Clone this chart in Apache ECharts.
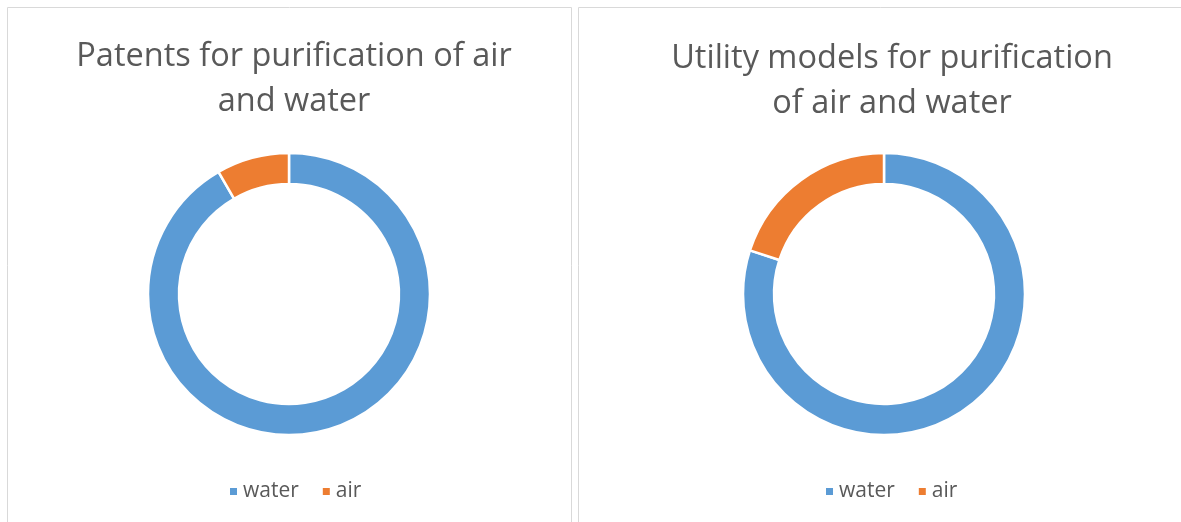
<!DOCTYPE html>
<html>
<head>
<meta charset="utf-8">
<script src="https://cdn.jsdelivr.net/npm/echarts@6/dist/echarts.min.js"></script>
<style>
  html, body { margin: 0; padding: 0; background: #fff; }
  #chart { width: 1181px; height: 522px; }
</style>
</head>
<body>
<div id="chart"></div>
<script>
// data
const categories = ['water', 'air']
const patentValues = [11, 1]
const utilityValues = [4, 1]
const titles = ['Patents for purification of air\nand water', 'Utility models for purification\nof air and water']
const colors = ['#5B9BD5', '#ED7D31']

const font = 'Open Sans'
const textColor = '#595959'

function toData(values) {
  return categories.map((c, i) => ({ name: c, value: values[i] }))
}

let chart = echarts.init(document.getElementById('chart'))

function pieSeries(name, values, cx) {
  return {
    name: name,
    type: 'pie',
    center: [cx, 294],
    radius: [110, 141],
    startAngle: 90,
    clockwise: true,
    label: { show: false },
    labelLine: { show: false },
    emphasis: { disabled: true },
    itemStyle: { borderColor: '#fff', borderWidth: 2.5 },
    data: toData(values)
  }
}

function legend(left) {
  return {
    data: categories,
    left: left,
    top: 476,
    icon: 'rect',
    itemWidth: 9,
    itemHeight: 9,
    itemGap: 22,
    textStyle: { fontFamily: font, fontSize: 21, color: textColor }
  }
}

let options = {
  color: colors,
  animation: false,
  graphic: [
    { type: 'rect', shape: { x: 7.5, y: 7.5, width: 564, height: 530 }, style: { fill: 'none', stroke: '#d9d9d9', lineWidth: 1 } },
    { type: 'rect', shape: { x: 578.5, y: 7.5, width: 620, height: 530 }, style: { fill: 'none', stroke: '#d9d9d9', lineWidth: 1 } }
  ],
  title: [
    { text: titles[0], left: 289, top: 29, textAlign: 'center',
      textStyle: { fontFamily: font, fontSize: 32.5, fontWeight: 'normal', color: textColor, lineHeight: 45 } },
    { text: titles[1], left: 887, top: 31, textAlign: 'center',
      textStyle: { fontFamily: font, fontSize: 32.5, fontWeight: 'normal', color: textColor, lineHeight: 45 } }
  ],
  legend: [legend(223), legend(819)],
  series: [
    pieSeries('patents', patentValues, 289),
    pieSeries('utility', utilityValues, 884)
  ]
}
chart.setOption(options)
</script>
</body>
</html>
